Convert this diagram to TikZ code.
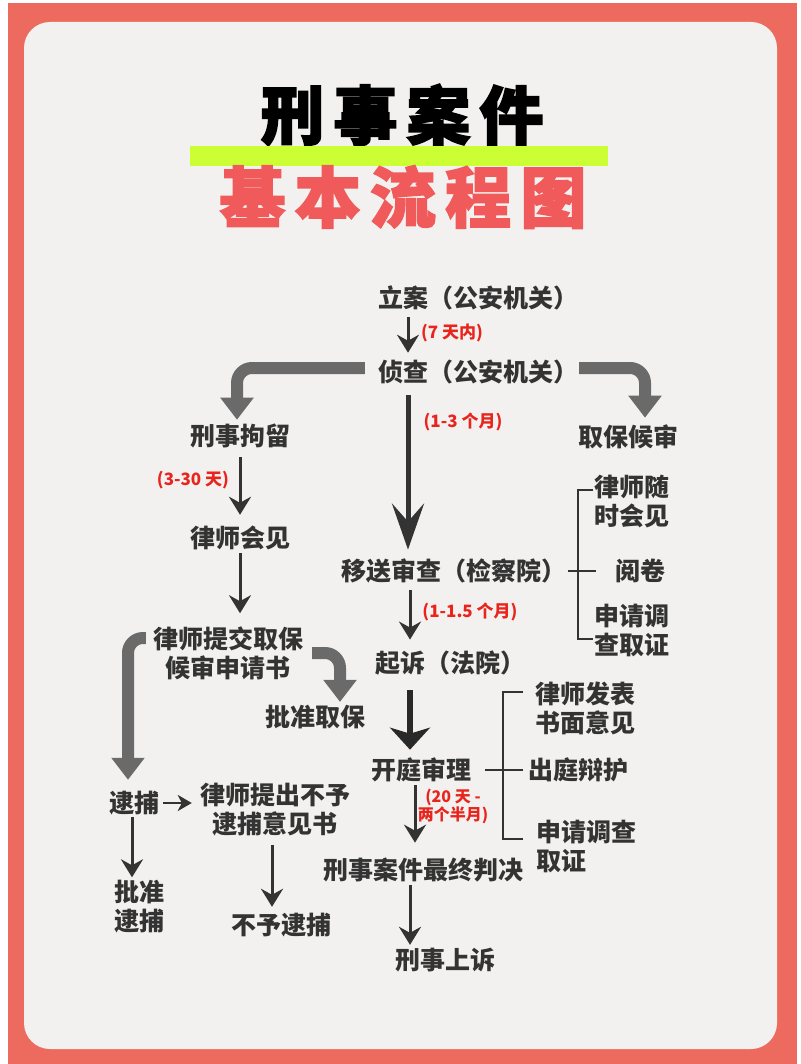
\documentclass[tikz,border=0pt]{standalone}
\usepackage{fontspec}
\setmainfont{Noto Sans CJK SC}
\newfontfamily\titlefont{Noto Sans CJK SC}[BoldFeatures={FakeBold=2.5}, LetterSpace=14]
\usetikzlibrary{arrows.meta}
\definecolor{frame}{HTML}{EC6B5E}
\definecolor{card}{HTML}{F2F1EF}
\definecolor{ink}{HTML}{333333}
\definecolor{grayarr}{HTML}{6A6A6A}
\definecolor{lime}{HTML}{CCFF33}
\definecolor{titlered}{HTML}{F05A5A}
\definecolor{lblred}{HTML}{E8241C}
\begin{document}
\begin{tikzpicture}[x=1pt,y=-1pt,
  txt/.style={font=\fontsize{25}{29}\selectfont\bfseries, text=ink, inner sep=1pt, align=center},
  lbl/.style={font=\fontsize{17}{19}\selectfont\bfseries, text=lblred, inner sep=1pt, align=center},
  sarrow/.style={draw=ink, line width=3pt, -{Stealth[length=18pt,width=22pt,inset=6pt]}},
  harrow/.style={draw=ink, line width=2.5pt, -{Stealth[length=14pt,width=16pt,inset=4pt]}},
  bigarr/.style={draw=ink, line width=5pt, -{Stealth[length=46pt,width=32pt,inset=18pt]}},
  wideArr/.style={draw=ink!80!black, line width=6pt, -{Stealth[length=22pt,width=40pt,inset=6pt]}},
  grayL/.style={draw=grayarr, line width=12pt, rounded corners=15pt, -{Triangle[length=22pt,width=32pt]}},
  brk/.style={draw=ink, line width=2.5pt}]
\useasboundingbox (0,0) rectangle (800,1064);
\fill[white] (0,0) rectangle (800,1064);
\fill[frame] (8,3) rectangle (797,1064);
\fill[card, rounded corners=26pt] (24,22) rectangle (777,1049);

% titles
\node[font=\titlefont\bfseries\fontsize{64}{64}\selectfont, text=black, inner sep=0pt] (t1) at (402,115) {刑事案件};
\fill[lime] (190,146) rectangle (608,166);
\node[font=\titlefont\bfseries\fontsize{66}{66}\selectfont, text=titlered, inner sep=0pt] (t2) at (403,197) {基本流程图};

% main column
\node[txt] (lian) at (478,298) {立案（公安机关）};
\node[txt] (zhencha) at (478,372) {侦查（公安机关）};
\node[txt] (jl) at (240,436) {刑事拘留};
\node[txt] (qbhs) at (628,437) {取保候审};
\node[txt] (lshj) at (240,538) {律师会见};
\node[txt] (tj) at (228,653) {律师提交取保\\候审申请书};
\node[txt] (pzqb) at (315,717) {批准取保};
\node[txt] (yssc) at (454,571) {移送审查（检察院）};
\node[txt] (yj) at (640,571) {阅卷};
\node[txt] (lssj) at (632,502) {律师随\\时会见};
\node[txt] (sqdc1) at (632,631) {申请调\\查取证};
\node[txt] (qs) at (450,663) {起诉（法院）};
\node[txt] (ktsl) at (421,770) {开庭审理};
\node[txt] (lsfb) at (585,708) {律师发表\\书面意见};
\node[txt] (ctbh) at (578,770) {出庭辩护};
\node[txt, align=left, anchor=west] (sqdc2) at (535,847) {申请调查\\取证};
\node[txt] (final) at (423,870) {刑事案件最终判决};
\node[txt] (ss) at (445,960) {刑事上诉};
\node[txt] (db) at (134,803) {逮捕};
\node[txt] (yjs) at (275,810) {律师提出不予\\逮捕意见书};
\node[txt] (pzdb) at (139,907) {批准\\逮捕};
\node[txt] (bydb) at (281,925) {不予逮捕};

% labels
\node[lbl] (l1) at (452,333) {(7 天内)};
\node[lbl] (l2) at (463,422) {(1-3 个月)};
\node[lbl] (l3) at (193,480) {(3-30 天)};
\node[lbl] (l4) at (470,612) {(1-1.5 个月)};
\node[lbl, font=\fontsize{16}{18}\selectfont\bfseries] (l5) at (453,806) {(20 天 -\\两个半月)};

% thin arrows
\draw[sarrow, shorten <=6pt, shorten >=6pt] ([xshift=-70pt]lian.south) -- ([xshift=-70pt]zhencha.north);
\draw[sarrow, shorten <=8pt, shorten >=10pt] (jl.south) -- (lshj.north);
\draw[sarrow, shorten <=2pt, shorten >=12pt] (lshj.south) -- ([xshift=12pt]tj.north);
\draw[sarrow, shorten <=6pt, shorten >=10pt] ([xshift=-44pt]yssc.south) -- ([xshift=-40pt]qs.north);
\draw[sarrow, shorten <=2pt, shorten >=14pt] ([xshift=-6pt]ktsl.south) -- ([xshift=-8pt]final.north);
\draw[sarrow, shorten <=2pt, shorten >=2pt] ([xshift=-13pt]final.south) -- ([xshift=-35pt]ss.north);
\draw[sarrow, shorten <=1pt, shorten >=2pt] ([xshift=-2pt]db.south) -- ([xshift=-7pt]pzdb.north);
\draw[sarrow, shorten <=7pt, shorten >=5pt] ([xshift=-3pt]yjs.south) -- ([xshift=-9pt]bydb.north);
\draw[harrow, shorten <=3pt] (db.east) -- ([xshift=-7pt,yshift=7pt]yjs.west);

% big arrows
\draw[bigarr, shorten <=10pt, shorten >=8pt] ([xshift=-70pt]zhencha.south) -- ([xshift=-46pt]yssc.north);
\draw[wideArr, shorten <=14pt, shorten >=7pt] ([xshift=-40pt]qs.south) -- ([xshift=-11pt]ktsl.north);

% gray L arrows
\draw[grayL, shorten >=3pt] ([xshift=-12pt,yshift=4pt]zhencha.west) -| ([xshift=-3pt]jl.north);
\draw[grayL, shorten >=6pt] ([yshift=4pt]zhencha.east) -| ([xshift=17pt]qbhs.north);
\draw[grayL, shorten >=10pt] ([xshift=-6pt,yshift=15pt]tj.west) -| ([xshift=-6pt]db.north);
\draw[grayL, shorten >=2pt] ([xshift=8pt]tj.east) -| ([xshift=25pt]pzqb.north);

% brackets
\coordinate (br1) at (578,571);
\coordinate (bt1) at (578,490);
\coordinate (bb1) at (578,639);
\draw[brk, shorten >=18pt] (yssc.east) -- (br1 -| yj.west);
\draw[brk] (bt1 -| lssj.west) -- (bt1) -- (bb1) -- (bb1 -| sqdc1.west);

\coordinate (br2) at (503,770);
\coordinate (bt2) at (503,692);
\coordinate (bb2) at (503,839);
\coordinate (bt2e) at (523,692);
\coordinate (bb2e) at (523,839);
\draw[brk, shorten <=13pt, shorten >=4pt] (ktsl.east) -- (br2 -| ctbh.west);
\draw[brk] (bt2e) -- (bt2) -- (bb2) -- (bb2e);
\end{tikzpicture}
\end{document}
